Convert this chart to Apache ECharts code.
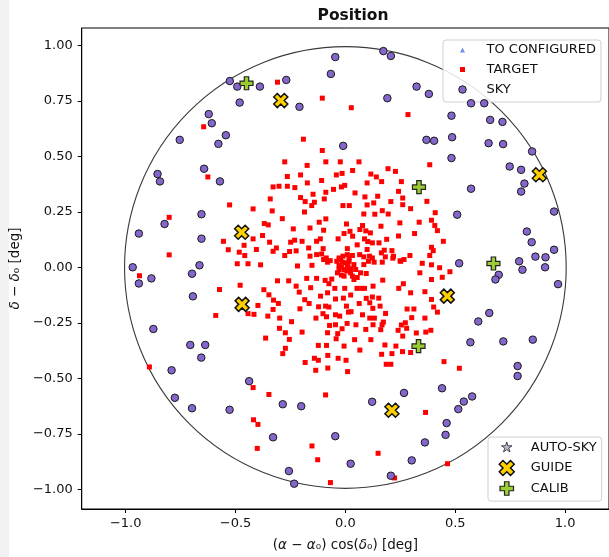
<!DOCTYPE html>
<html>
<head>
<meta charset="utf-8">
<script src="https://cdn.jsdelivr.net/npm/echarts@6/dist/echarts.min.js"></script>
<style>
  html, body { margin: 0; padding: 0; background: #ffffff; }
  #chart { width: 609px; height: 557px; }
</style>
</head>
<body>
<div id="chart"></div>
<script>
// ---- axis ticks -------------------------------------------------------
const xTicks = [-1.0, -0.5, 0.0, 0.5, 1.0];
const yTicks = [-1.0, -0.75, -0.5, -0.25, 0.0, 0.25, 0.5, 0.75, 1.0];

// ---- field of view: centre x, centre y, radius [deg] -------------------
const fieldCircle = [[0, 0, 1.0]];

// ---- fibre assignments: offsets [deg] ---------------------------------
const toConfigured = [];
const autoSky = [];

const guideStars = [
  [-0.294, 0.752], [0.883, 0.418], [-0.472, 0.159], [-0.470, -0.166],
  [0.464, -0.129], [0.212, -0.643]
];

const calibStars = [
  [-0.450, 0.830], [0.335, 0.362], [0.674, 0.018], [0.333, -0.354]
];

const skyFibres = [
  [-0.526, 0.840], [-0.492, 0.815], [-0.481, 0.743], [-0.622, 0.691], [-0.608, 0.650],
  [-0.544, 0.596], [-0.578, 0.557], [-0.754, 0.575], [-0.643, 0.445], [-0.571, 0.388],
  [-0.855, 0.421], [-0.844, 0.388], [-0.046, 0.948], [0.173, 0.975], [0.207, 0.953],
  [-0.066, 0.872], [-0.269, 0.845], [-0.389, 0.815], [-0.209, 0.724], [0.191, 0.763],
  [0.324, 0.815], [-0.010, 0.548], [0.380, 0.782], [0.572, 0.740], [0.632, 0.740],
  [0.483, 0.684], [0.659, 0.665], [0.715, 0.656], [0.369, 0.575], [0.404, 0.571],
  [0.486, 0.587], [0.652, 0.560], [0.718, 0.556], [0.850, 0.523], [0.483, 0.493],
  [0.748, 0.455], [0.800, 0.440], [0.815, 0.378], [0.572, 0.355], [-0.655, 0.240],
  [-0.823, 0.196], [-0.940, 0.153], [-0.655, 0.130], [-0.968, 0.001], [-0.664, 0.010],
  [-0.698, -0.028], [-0.883, -0.049], [-0.940, -0.072], [-0.694, -0.130], [-0.874, -0.277],
  [-0.706, -0.349], [-0.638, -0.349], [0.800, 0.342], [0.509, 0.238], [0.950, 0.252],
  [0.826, 0.162], [0.848, 0.114], [0.950, 0.080], [0.865, 0.049], [0.911, 0.046],
  [0.791, 0.028], [0.518, 0.019], [0.806, -0.010], [0.909, 0.001], [0.698, -0.033],
  [0.683, -0.054], [0.968, -0.075], [0.655, -0.205], [0.605, -0.243], [0.569, -0.337],
  [0.719, -0.333], [0.853, -0.325], [-0.656, -0.406], [-0.791, -0.463], [-0.438, -0.512],
  [-0.776, -0.587], [-0.698, -0.634], [-0.527, -0.641], [-0.285, -0.616], [-0.201, -0.625],
  [0.122, -0.605], [0.267, -0.565], [-0.329, -0.765], [-0.046, -0.760], [0.362, -0.788],
  [0.024, -0.884], [0.302, -0.869], [-0.257, -0.917], [-0.233, -0.974], [0.207, -0.938],
  [0.784, -0.444], [0.784, -0.489], [0.440, -0.544], [0.577, -0.581], [0.539, -0.604],
  [0.514, -0.638], [0.461, -0.701], [0.456, -0.754]
];

const targets = [
  // outer upper field
  [-0.309, 0.835], [-0.105, 0.763], [0.027, 0.720], [0.285, 0.689], [-0.191, 0.578],
  [-0.105, 0.527], [-0.276, 0.476], [-0.089, 0.476], [-0.023, 0.476], [0.062, 0.476],
  [-0.174, 0.460], [0.194, 0.445], [0.228, 0.433], [-0.264, 0.410], [-0.204, 0.417],
  [-0.041, 0.417], [-0.015, 0.424], [0.033, 0.437], [0.116, 0.421], [0.141, 0.408],
  [-0.108, 0.392], [-0.645, 0.634], [-0.626, 0.408], [0.384, 0.463],
  // west side
  [-0.527, 0.282], [-0.802, 0.226], [-0.555, 0.118], [-0.420, 0.129], [-0.461, 0.100],
  [-0.533, 0.080], [-0.483, 0.069], [-0.458, 0.054], [-0.802, 0.057], [-0.492, 0.017],
  [-0.443, 0.017], [-0.937, -0.037], [-0.479, -0.080], [-0.573, -0.099], [-0.443, -0.208],
  [-0.590, -0.216],
  // central concentration
  [-0.329, 0.363], [-0.302, 0.366], [-0.264, 0.366], [-0.230, 0.360], [-0.173, 0.381],
  [-0.054, 0.352], [-0.018, 0.363], [-0.003, 0.370], [0.099, 0.381], [0.165, 0.387],
  [0.255, 0.387],
  [-0.147, 0.330], [-0.089, 0.339], [-0.204, 0.315], [0.044, 0.336], [0.089, 0.318],
  [0.147, 0.321], [0.242, 0.343], [0.261, 0.313], [-0.342, 0.309],
  [-0.183, 0.297], [-0.141, 0.294], [-0.153, 0.279], [-0.096, 0.309], [-0.011, 0.279],
  [0.018, 0.279], [0.099, 0.282], [0.129, 0.291], [0.207, 0.297], [0.261, 0.283],
  [0.297, 0.265],
  [-0.420, 0.264], [-0.333, 0.255], [-0.186, 0.250], [0.168, 0.256], [0.195, 0.241],
  [0.084, 0.241], [0.134, 0.240],
  [-0.287, 0.220], [-0.119, 0.204], [-0.089, 0.219], [0.005, 0.196], [0.248, 0.201],
  [0.336, 0.204], [-0.369, 0.198], [-0.351, 0.192], [-0.161, 0.178], [-0.099, 0.168],
  [-0.237, 0.174], [0.078, 0.189], [0.066, 0.171], [0.093, 0.165], [0.162, 0.186],
  [0.021, 0.163], [-0.006, 0.153], [0.033, 0.141], [0.114, 0.156], [-0.377, 0.144],
  [0.315, 0.153], [0.242, 0.142],
  [-0.249, 0.114], [-0.231, 0.123], [-0.197, 0.118], [-0.131, 0.118], [-0.114, 0.129],
  [-0.033, 0.129], [0.087, 0.129], [0.102, 0.117], [0.123, 0.111], [0.153, 0.111],
  [0.054, 0.102], [-0.345, 0.114], [0.188, 0.127],
  [-0.314, 0.088], [-0.329, 0.073], [-0.167, 0.088], [-0.101, 0.085], [0.009, 0.085],
  [0.099, 0.081], [0.212, 0.076], [0.177, 0.078], [0.164, 0.066], [-0.405, 0.081],
  [-0.254, 0.072], [-0.224, 0.075],
  [-0.131, 0.058], [-0.108, 0.061], [-0.087, 0.043], [-0.069, 0.031], [-0.029, 0.043],
  [-0.011, 0.051], [0.009, 0.058], [0.032, 0.054], [0.065, 0.058], [0.084, 0.048],
  [0.110, 0.051], [0.182, 0.048], [0.219, 0.051], [0.252, 0.028], [0.294, 0.054],
  [0.267, 0.036], [-0.161, 0.051], [-0.276, 0.054], [-0.099, 0.036],
  [-0.039, 0.028], [-0.014, 0.024], [0.002, 0.021], [0.017, 0.028], [0.039, 0.013],
  [0.012, 0.003], [-0.018, 0.003], [-0.006, -0.009], [-0.029, -0.009], [-0.036, -0.024],
  [0.006, -0.016], [0.024, -0.006], [0.032, -0.039], [0.054, -0.045], [0.069, -0.024],
  [0.095, -0.027], [0.084, 0.013], [0.105, 0.028], [0.131, 0.024], [0.123, 0.043],
  [0.168, 0.024], [0.216, 0.042], [0.249, 0.030], [0.350, 0.019], [0.339, -0.024],
  [-0.218, 0.007], [-0.152, 0.010], [-0.081, 0.024], [-0.386, 0.012],
  [-0.021, 0.036], [0.009, 0.013], [0.024, -0.024], [-0.006, -0.039], [0.047, -0.009],
  [-0.029, 0.009], [0.017, 0.043], [0.039, -0.054],
  [-0.309, -0.060], [-0.258, -0.060], [-0.176, -0.049], [-0.131, -0.049], [-0.092, -0.058],
  [-0.062, -0.052], [-0.018, -0.034], [-0.075, -0.073], [0.170, -0.057], [0.053, -0.094],
  [0.087, -0.094], [0.074, -0.094], [-0.048, -0.094], [-0.003, -0.094], [0.126, -0.084],
  [0.264, -0.073], [0.243, -0.094], [-0.224, -0.084], [-0.158, -0.091], [-0.371, -0.100],
  [-0.348, -0.123], [-0.210, -0.111], [-0.113, -0.129], [-0.081, -0.114], [-0.009, -0.138],
  [-0.045, -0.142], [0.024, -0.124], [0.095, -0.139], [0.123, -0.133], [0.152, -0.138],
  [0.297, -0.114], [-0.305, -0.162], [-0.327, -0.147], [-0.329, -0.189], [-0.185, -0.145],
  [-0.165, -0.162],
  [-0.398, -0.171], [-0.416, -0.211], [-0.353, -0.219], [-0.299, -0.228], [-0.207, -0.186],
  [-0.122, -0.177], [-0.090, -0.174], [-0.075, -0.178], [0.005, -0.174], [0.063, -0.162],
  [0.111, -0.159], [0.125, -0.184], [0.158, -0.174], [0.281, -0.187], [0.312, -0.187],
  [-0.134, -0.228], [-0.102, -0.208], [-0.086, -0.222], [-0.045, -0.213], [-0.026, -0.219],
  [0.014, -0.201], [0.026, -0.199], [0.078, -0.213], [0.111, -0.228], [0.132, -0.228],
  [0.183, -0.207], [0.302, -0.226], [0.273, -0.249],
  [-0.245, -0.244], [-0.072, -0.261], [-0.045, -0.258], [0.008, -0.252], [0.048, -0.258],
  [0.126, -0.258], [0.167, -0.258], [0.173, -0.246], [0.255, -0.259], [-0.300, -0.274],
  [-0.197, -0.291], [-0.081, -0.294], [-0.035, -0.298], [-0.015, -0.276], [0.093, -0.279],
  [0.161, -0.280], [0.240, -0.283], [0.323, -0.295], [0.279, -0.274],
  [-0.363, -0.318], [-0.273, -0.294], [-0.255, -0.324], [-0.042, -0.321], [0.042, -0.325],
  [0.116, -0.325], [0.261, -0.309], [-0.123, -0.351], [-0.086, -0.351], [-0.006, -0.354],
  [0.180, -0.349], [0.230, -0.354],
  // east side
  [0.371, 0.298], [0.409, 0.247], [0.392, 0.213], [0.407, 0.189], [0.419, 0.166],
  [0.446, 0.118], [0.392, 0.091], [0.400, 0.076], [0.384, 0.054], [0.392, 0.012],
  [0.429, -0.001], [0.476, -0.019], [0.441, -0.044], [0.392, -0.054], [0.362, -0.109],
  [0.392, -0.144], [0.402, -0.178], [0.419, -0.201], [0.362, -0.228], [0.389, -0.283],
  [0.366, -0.291],
  // lower field
  [-0.273, -0.364], [-0.285, -0.388], [0.066, -0.372], [0.165, -0.391], [0.212, -0.388],
  [0.260, -0.379], [0.297, -0.383], [-0.141, -0.409], [-0.123, -0.418], [-0.080, -0.396],
  [-0.033, -0.409], [0.003, -0.418], [-0.183, -0.428], [0.186, -0.436], [0.207, -0.436],
  [-0.135, -0.463], [-0.080, -0.453], [0.010, -0.469], [-0.348, -0.572], [-0.090, -0.574],
  [0.365, -0.653], [-0.418, -0.686], [-0.398, -0.707], [-0.401, -0.815], [-0.152, -0.804],
  [-0.126, -0.866], [0.149, -0.837], [-0.068, -0.969], [0.224, -0.948], [-0.420, -0.541],
  [-0.892, -0.448], [0.449, -0.424], [0.519, -0.454], [0.465, -0.884]
];

// ---- marker shapes (unit polygons centred on 0,0, screen y down) --------
const X_SHAPE = [[-1, -2], [0, -1], [1, -2], [2, -1], [1, 0], [2, 1], [1, 2], [0, 1],
                 [-1, 2], [-2, 1], [-1, 0], [-2, -1]].map(p => [p[0] / 4, p[1] / 4]);
const PLUS_SHAPE = [[-1, -3], [1, -3], [1, -1], [3, -1], [3, 1], [1, 1], [1, 3], [-1, 3],
                    [-1, 1], [-3, 1], [-3, -1], [-1, -1]].map(p => [p[0] / 6, p[1] / 6]);
const SQUARE_SHAPE = [[-0.5, -0.5], [0.5, -0.5], [0.5, 0.5], [-0.5, 0.5]];
const TRIANGLE_SHAPE = [[0, -0.5], [0.5, 0.5], [-0.5, 0.5]];
const STAR_SHAPE = [];
for (let k = 0; k < 10; k++) {
  const r = k % 2 === 0 ? 0.5 : 0.5 * 0.381966;
  const a = (-90 + k * 36) * Math.PI / 180;
  STAR_SHAPE.push([r * Math.cos(a), r * Math.sin(a)]);
}

function polyPath(pts, size, cx, cy) {
  return pts.map((p, i) => (i ? 'L' : 'M') + (cx + p[0] * size).toFixed(2) + ' ' +
    (cy + p[1] * size).toFixed(2)).join('') + 'Z';
}
function circlePath(d, cx, cy) {
  const r = d / 2;
  return `M${cx - r} ${cy}A${r} ${r} 0 1 0 ${cx + r} ${cy}A${r} ${r} 0 1 0 ${cx - r} ${cy}Z`;
}

// legend handles: marker sits at (8, 9) inside a fixed 27 x 18 box
const ICON_W = 27, ICON_H = 18, ICON_CX = 8, ICON_CY = 9;
function legendIcon(shape) {
  return `path://M0 0M${ICON_W} ${ICON_H}` + shape;
}

const FONT = '"DejaVu Sans", sans-serif';
const TEXT = '#111111';

const SKY_FILL = '#8466cc';
const GUIDE_FILL = '#ffd000';
const CALIB_FILL = '#9acd32';
const AUTOSKY_FILL = '#b3a6c8';
const TOCONF_FILL = '#5470e6';

const fmtMinus = s => s.replace('-', '\u2212');

const chart = echarts.init(document.getElementById('chart'), null, { renderer: 'canvas' });

chart.setOption({
  animation: false,
  backgroundColor: '#ffffff',
  textStyle: { fontFamily: FONT },
  title: {
    text: 'Position',
    left: 348,
    top: 3,
    textAlign: 'center',
    textStyle: { fontFamily: FONT, fontSize: 15.5, fontWeight: 'bold', color: TEXT }
  },
  graphic: [
    { type: 'rect', left: 0, top: 0, shape: { width: 9, height: 557 }, style: { fill: '#f2f2f2' }, silent: true }
  ],
  grid: {
    left: 81, top: 28, width: 533, height: 482,
    show: true, borderColor: '#000000', borderWidth: 1, backgroundColor: 'transparent',
    containLabel: false
  },
  xAxis: {
    type: 'value', min: -1.2, max: 1.2,
    name: '({i|\u03b1} \u2212 {i|\u03b1}\u2080) cos({i|\u03b4}\u2080) [deg]',
    nameLocation: 'middle', nameGap: 29,
    nameTextStyle: {
      fontFamily: FONT, fontSize: 13.5, color: TEXT,
      rich: { i: { fontFamily: FONT, fontSize: 13.5, fontStyle: 'italic', color: TEXT } }
    },
    axisLine: { show: true, onZero: false, lineStyle: { color: '#000', width: 1 } },
    axisTick: { show: true, length: 4, lineStyle: { color: '#000' }, customValues: xTicks },
    axisLabel: {
      show: true, margin: 8, fontFamily: FONT, fontSize: 13, color: TEXT,
      customValues: xTicks, formatter: v => fmtMinus(Number(v).toFixed(1))
    },
    splitLine: { show: false }
  },
  yAxis: {
    type: 'value', min: -1.088, max: 1.079,
    name: '{i|\u03b4} \u2212 {i|\u03b4}\u2080 [deg]',
    nameLocation: 'middle', nameGap: 56, nameRotate: 90,
    nameTextStyle: {
      fontFamily: FONT, fontSize: 13.5, color: TEXT,
      rich: { i: { fontFamily: FONT, fontSize: 13.5, fontStyle: 'italic', color: TEXT } }
    },
    axisLine: { show: true, onZero: false, lineStyle: { color: '#000', width: 1 } },
    axisTick: { show: true, length: 4, lineStyle: { color: '#000' }, customValues: yTicks },
    axisLabel: {
      show: true, margin: 9, fontFamily: FONT, fontSize: 13, color: TEXT,
      customValues: yTicks, formatter: v => fmtMinus(Number(v).toFixed(2))
    },
    splitLine: { show: false }
  },
  legend: [
    {
      orient: 'vertical', left: 443, top: 40,
      padding: [1, 5, 3, 11], itemGap: 1.5,
      itemWidth: ICON_W, itemHeight: ICON_H,
      backgroundColor: 'rgba(255,255,255,0.85)', borderColor: '#cfcfcf', borderWidth: 1, borderRadius: 3,
      selectedMode: false,
      textStyle: { fontFamily: FONT, fontSize: 13, color: TEXT },
      data: [
        { name: 'TO CONFIGURED', icon: legendIcon(polyPath(TRIANGLE_SHAPE, 5, ICON_CX, ICON_CY)),
          itemStyle: { color: TOCONF_FILL, borderWidth: 0 } },
        { name: 'TARGET', icon: legendIcon(polyPath(SQUARE_SHAPE, 5, ICON_CX, ICON_CY)),
          itemStyle: { color: '#ff0000', borderWidth: 0 } },
        { name: 'SKY', icon: legendIcon(circlePath(7.5, ICON_CX, ICON_CY)),
          itemStyle: { color: SKY_FILL, borderColor: '#1a1a1a', borderWidth: 1 } }
      ]
    },
    {
      orient: 'vertical', left: 488, top: 437,
      padding: [1, 5, 3, 10], itemGap: 1.2,
      itemWidth: ICON_W, itemHeight: ICON_H,
      backgroundColor: 'rgba(255,255,255,0.85)', borderColor: '#cfcfcf', borderWidth: 1, borderRadius: 3,
      selectedMode: false,
      textStyle: { fontFamily: FONT, fontSize: 13, color: TEXT },
      data: [
        { name: 'AUTO-SKY', icon: legendIcon(polyPath(STAR_SHAPE, 11, ICON_CX, ICON_CY)),
          itemStyle: { color: AUTOSKY_FILL, borderColor: '#222', borderWidth: 1 } },
        { name: 'GUIDE', icon: legendIcon(polyPath(X_SHAPE, 15, ICON_CX, ICON_CY)),
          itemStyle: { color: GUIDE_FILL, borderColor: '#111', borderWidth: 1.5 } },
        { name: 'CALIB', icon: legendIcon(polyPath(PLUS_SHAPE, 13.5, ICON_CX, ICON_CY)),
          itemStyle: { color: CALIB_FILL, borderColor: '#222', borderWidth: 1.2 } }
      ]
    }
  ],
  series: [
    {
      name: 'field', type: 'custom', z: 1, silent: true,
      data: fieldCircle,
      renderItem: (params, api) => {
        const c = api.coord([api.value(0), api.value(1)]);
        const s = api.size([api.value(2), api.value(2)]);
        return {
          type: 'circle',
          shape: { cx: c[0], cy: c[1], r: (s[0] + s[1]) / 2 },
          style: { fill: null, stroke: '#3a3a3a', lineWidth: 1.1 }
        };
      }
    },
    {
      name: 'TO CONFIGURED', type: 'scatter', z: 2, data: toConfigured,
      symbol: 'triangle', symbolSize: 5, itemStyle: { color: TOCONF_FILL }
    },
    {
      name: 'TARGET', type: 'scatter', z: 3, data: targets,
      symbol: 'rect', symbolSize: 5, itemStyle: { color: '#ff0000', opacity: 1 }
    },
    {
      name: 'SKY', type: 'scatter', z: 4, data: skyFibres,
      symbol: 'circle', symbolSize: 7.5,
      itemStyle: { color: SKY_FILL, borderColor: '#1a1a1a', borderWidth: 1, opacity: 1 }
    },
    {
      name: 'AUTO-SKY', type: 'scatter', z: 5, data: autoSky,
      symbol: 'path://' + polyPath(STAR_SHAPE, 1, 0, 0), symbolSize: 11,
      itemStyle: { color: AUTOSKY_FILL, borderColor: '#222', borderWidth: 1 }
    },
    {
      name: 'GUIDE', type: 'scatter', z: 6, data: guideStars,
      symbol: 'path://' + polyPath(X_SHAPE, 1, 0, 0), symbolSize: 14,
      itemStyle: { color: GUIDE_FILL, borderColor: '#111', borderWidth: 1.5, opacity: 1 }
    },
    {
      name: 'CALIB', type: 'scatter', z: 7, data: calibStars,
      symbol: 'path://' + polyPath(PLUS_SHAPE, 1, 0, 0), symbolSize: 13,
      itemStyle: { color: CALIB_FILL, borderColor: '#222', borderWidth: 1.2, opacity: 1 }
    }
  ]
});
</script>
</body>
</html>
